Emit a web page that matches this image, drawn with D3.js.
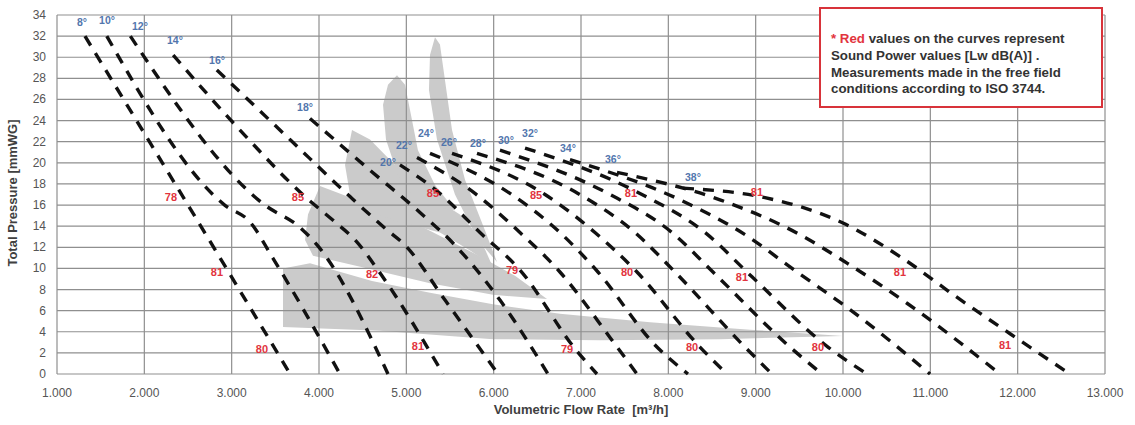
<!DOCTYPE html>
<html><head><meta charset="utf-8">
<script src="https://cdn.jsdelivr.net/npm/d3@7"></script>
<style>body{margin:0;background:#fff} svg{display:block;font-family:"Liberation Sans",Arial,sans-serif} .pre{white-space:pre}</style>
</head><body>
<svg id="chart" width="1135" height="425"></svg>
<script>
// ---------- DATA ----------
const xTickValues = [1000,2000,3000,4000,5000,6000,7000,8000,9000,10000,11000,12000,13000];
const yTickValues = [0,2,4,6,8,10,12,14,16,18,20,22,24,26,28,30,32,34];

const angleNames = ["8°","10°","12°","14°","16°","18°","20°","22°","24°","26°","28°","30°","32°","34°","36°","38°"];
const angleLabelX = [1286,1573,1950,2351,2832,3840,4790,4973,5225,5488,5820,6141,6416,6851,7366,8282];
const angleLabelY = [33.3,33.5,33.0,31.6,29.7,25.3,20.1,21.7,22.8,22.0,21.9,22.2,22.8,21.4,20.4,18.7];

// curves: [flow m3/h, total pressure mmWG]
const curve08 = [[1320,32],[2500,16.0],[3670,0]];
const curve10 = [[1570,32],[2920,16.0],[3210,14.4],[3470,11.0],[4240,0]];
const curve12 = [[1840,32],[3380,16.0],[3780,13.9],[3980,12.2],[4790,0]];
const curve14 = [[2330,30.2],[3095,23.1],[3840,16.8],[4183,14.4],[4412,12.7],[4721,9.3],[5420,0]];
const curve16 = [[2830,28.8],[3668,22.2],[4355,16.8],[4756,13.8],[4985,12.2],[5443,7.0],[6050,0]];
const curve18 = [[3897,24.2],[4584,19.3],[5156,15.3],[5557,12.2],[6072,7.0],[6622,0]];
const curve20 = [[4927,19.8],[5385,17.1],[5843,13.4],[6301,9.85],[6931,2.4],[7183,0]];
const curve22 = [[5122,20.5],[5786,17.1],[6301,13.4],[6759,9.66],[7355,3.2],[7641,0]];
const curve24 = [[5271,20.9],[6187,17.1],[6759,13.4],[7194,9.66],[7847,2.75],[8225,0]];
const curve26 = [[5523,20.9],[6588,17.0],[7160,13.4],[7641,9.66],[8362,2.55],[8672,0]];
const curve28 = [[5809,20.9],[6965,17.1],[7618,13.4],[8076,9.66],[8878,2.55],[9187,0]];
const curve30 = [[6072,21.2],[7309,17.1],[8042,13.4],[8511,9.66],[9393,2.55],[9760,0]];
const curve32 = [[6359,21.4],[7675,17.1],[8420,13.4],[8958,9.2],[9828,2.55],[10275,0]];
const curve34 = [[6874,20.3],[8133,16.5],[8878,13.2],[9473,9.66],[10080,6.1],[10997,0]];
const curve36 = [[7412,19.1],[8591,16.5],[9507,13.2],[10046,10.5],[10733,6.7],[11798,0]];
const curve38 = [[8168,17.6],[9107,16.7],[10000,14.3],[10675,11.0],[11316,7.2],[11969,3.5],[12599,0]];

// sound power values (red)
const soundValues = ["78","85","85","85","81","81","81","82","79","80","81","81","80","81","79","80","80","81"];
const soundX = [2305,3759,5305,6485,7572,9015,2832,4607,6210,7527,8843,10652,3347,5133,6840,8271,9713,11855];
const soundY = [16.8,16.8,17.1,17.0,17.1,17.2,9.66,9.5,9.85,9.66,9.2,9.66,2.4,2.65,2.4,2.55,2.55,2.75];

// grey operating zones
const zoneLow = [[3588,10.0],[3897,10.5],[4607,8.8],[5271,7.7],[5992,6.6],[6759,5.7],[7790,4.9],[8935,4.2],[10000,3.6],[8591,3.3],[7217,3.2],[5992,3.3],[4698,4.1],[3588,4.45]];
const zoneMid = [[4011,17.8],[4584,16.0],[5214,13.8],[5786,11.4],[6244,9.3],[6611,7.1],[5992,7.5],[5271,8.6],[4607,9.9],[3931,11.2],[3840,12.7],[3874,15.1]];
const zoneUpper = [[4378,23.1],[4584,22.2],[4870,19.8],[5214,17.2],[5614,15.1],[5843,12.9],[5981,10.3],[5729,11.7],[5385,13.4],[4927,14.4],[4584,15.3],[4355,17.0],[4298,19.8]];
const zoneFlameA = [[4893,28.3],[4985,27.4],[5042,25.0],[5133,21.2],[5328,17.9],[5557,15.5],[5156,16.0],[4904,18.8],[4767,22.2],[4733,25.5],[4790,27.4]];
const zoneFlameB = [[5328,31.9],[5385,31.2],[5443,27.8],[5523,23.1],[5672,18.4],[5901,13.6],[6038,10.6],[5820,12.7],[5557,17.0],[5351,22.2],[5259,26.9],[5271,30.2]];

const legendLines = ["values on the curves represent","Sound Power values [Lw dB(A)] .","Measurements made in the free field","conditions according to ISO 3744."];
const xTitle = "Volumetric Flow Rate  [m³/h]";
const yTitle = "Total Pressure [mmWG]";

// ---------- DRAW ----------
const curves = [curve08,curve10,curve12,curve14,curve16,curve18,curve20,curve22,curve24,curve26,curve28,curve30,curve32,curve34,curve36,curve38];
const zones = [zoneLow,zoneMid,zoneUpper,zoneFlameA,zoneFlameB];

const svg = d3.select("#chart");
const W = 1135, H = 425;
const m = {left:57, right:30, top:15, bottom:51};
const x = d3.scaleLinear().domain([1000,13000]).range([m.left, W-m.right]);
const y = d3.scaleLinear().domain([0,34]).range([H-m.bottom, m.top]);
const loc = d3.formatLocale({decimal:",", thousands:".", grouping:[3], currency:["",""]});
const fmt = loc.format(",");

svg.append("rect").attr("width",W).attr("height",H).attr("fill","#fff");

// zones
const zoneLine = d3.line().x(d=>x(d[0])).y(d=>y(d[1])).curve(d3.curveLinearClosed);
svg.append("g").selectAll("path").data(zones).join("path")
  .attr("d", zoneLine).attr("fill","#cbcbcb").attr("stroke","none");

// grid
const grid = svg.append("g").attr("stroke","#8f8f8f").attr("stroke-width",1.2);
grid.selectAll("line.h").data(yTickValues).join("line").attr("class","h")
  .attr("x1",x(1000)).attr("x2",x(13000)).attr("y1",d=>y(d)).attr("y2",d=>y(d));
grid.selectAll("line.v").data(xTickValues).join("line").attr("class","v")
  .attr("x1",d=>x(d)).attr("x2",d=>x(d)).attr("y1",y(0)).attr("y2",y(34));

// axes labels
svg.append("g").selectAll("text").data(xTickValues).join("text")
  .attr("x",d=>x(d)).attr("y",y(0)+23).attr("text-anchor","middle")
  .attr("font-size",12).attr("fill","#555").text(d=>fmt(d));
svg.append("g").selectAll("text").data(yTickValues).join("text")
  .attr("x",x(1000)-11).attr("y",d=>y(d)+4).attr("text-anchor","end")
  .attr("font-size",12).attr("fill","#555").text(d=>d);

svg.append("text").attr("class","pre").attr("x",(x(1000)+x(13000))/2).attr("y",414).attr("text-anchor","middle")
  .attr("font-size",13).attr("font-weight","bold").attr("fill","#404040").text(xTitle);
svg.append("text").attr("transform","translate(17,193) rotate(-90)").attr("text-anchor","middle")
  .attr("font-size",13).attr("font-weight","bold").attr("fill","#404040").text(yTitle);

// curves
const curveLine = d3.line().x(d=>x(d[0])).y(d=>y(d[1])).curve(d3.curveMonotoneX);
svg.append("g").selectAll("path").data(curves).join("path")
  .attr("d", curveLine).attr("fill","none").attr("stroke","#111")
  .attr("stroke-width",3.4).attr("stroke-dasharray","11,9");

// angle labels
svg.append("g").selectAll("text").data(angleNames).join("text")
  .attr("x",(d,i)=>x(angleLabelX[i])).attr("y",(d,i)=>y(angleLabelY[i])+4)
  .attr("text-anchor","middle").attr("font-size",10.5).attr("font-weight","bold")
  .attr("fill","#5276ad").text(d=>d);

// sound labels
svg.append("g").selectAll("text").data(soundValues).join("text")
  .attr("x",(d,i)=>x(soundX[i])).attr("y",(d,i)=>y(soundY[i])+4)
  .attr("text-anchor","middle").attr("font-size",11).attr("font-weight","bold")
  .attr("fill","#e2343e").text(d=>d);

// legend box
const lg = svg.append("g");
lg.append("rect").attr("x",820).attr("y",8).attr("width",282).attr("height",99)
  .attr("fill","#fff").attr("stroke","#d8333a").attr("stroke-width",2);
const t0 = lg.append("text").attr("x",831).attr("y",43).attr("font-size",13.3).attr("font-weight","bold").attr("fill","#333");
t0.append("tspan").attr("fill","#e2343e").text("* Red");
t0.append("tspan").text(" " + legendLines[0]);
legendLines.slice(1).forEach((s,i)=>{
  lg.append("text").attr("x",831).attr("y",60+i*16.7).attr("font-size",13.3)
    .attr("font-weight","bold").attr("fill","#333").text(s);
});
</script>
</body></html>
